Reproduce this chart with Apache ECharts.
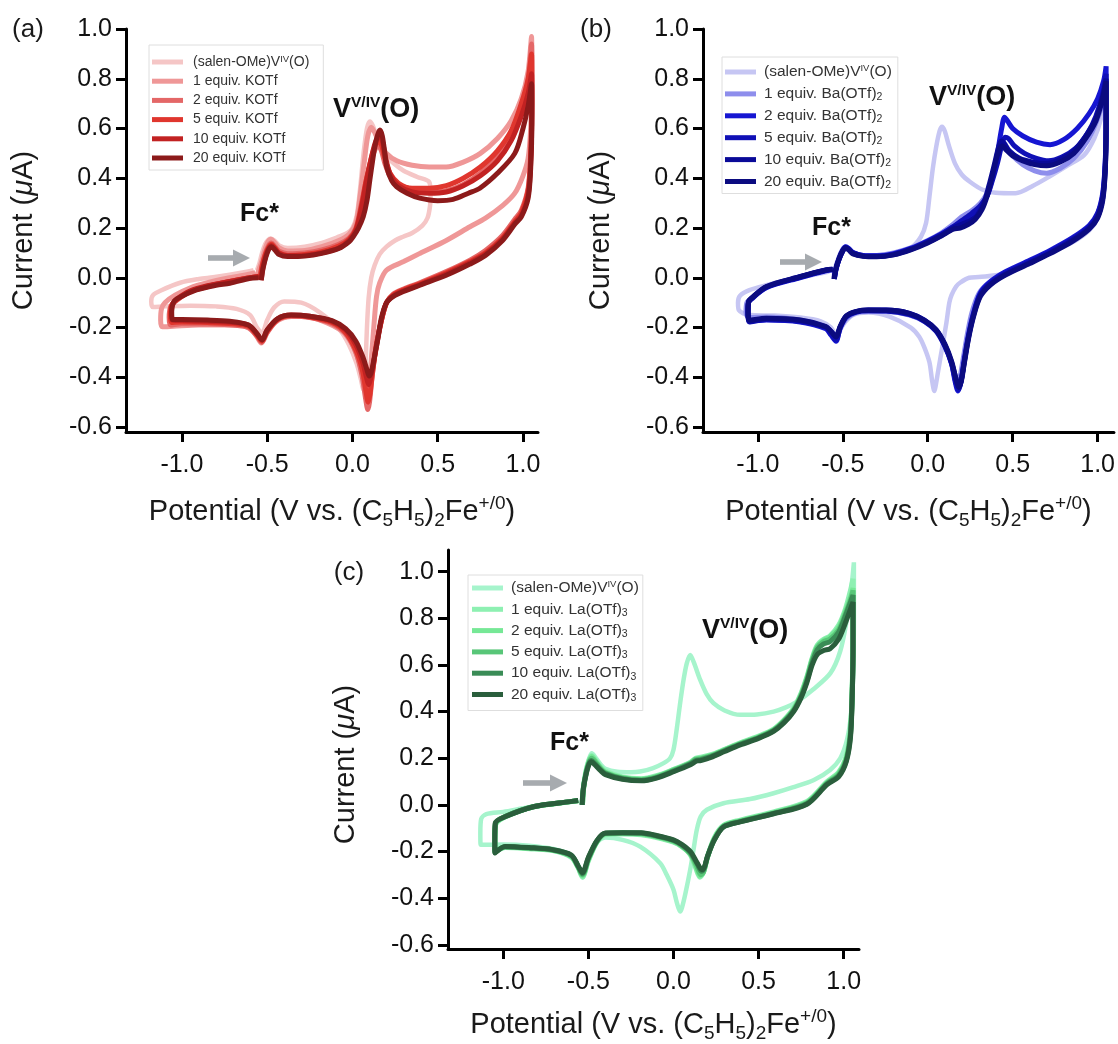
<!DOCTYPE html>
<html><head><meta charset="utf-8">
<script src="https://cdn.jsdelivr.net/npm/echarts@6/dist/echarts.min.js"></script>
<style>html,body{margin:0;padding:0;background:#fff}#c{width:1118px;height:1044px}</style>
</head><body><div id="c"></div>
<script>
// ---------------- DATA ----------------
const xTicks = [-1.0, -0.5, 0.0, 0.5, 1.0];
const yTicks = [-0.6, -0.4, -0.2, 0.0, 0.2, 0.4, 0.6, 0.8, 1.0];

const labelsA = ['(salen-OMe)V{sup|IV}(O)','1 equiv. KOTf','2 equiv. KOTf','5 equiv. KOTf','10 equiv. KOTf','20 equiv. KOTf'];
const labelsB = ['(salen-OMe)V{sup|IV}(O)','1 equiv. Ba(OTf){sub|2}','2 equiv. Ba(OTf){sub|2}','5 equiv. Ba(OTf){sub|2}','10 equiv. Ba(OTf){sub|2}','20 equiv. Ba(OTf){sub|2}'];
const labelsC = ['(salen-OMe)V{sup|IV}(O)','1 equiv. La(OTf){sub|3}','2 equiv. La(OTf){sub|3}','5 equiv. La(OTf){sub|3}','10 equiv. La(OTf){sub|3}','20 equiv. La(OTf){sub|3}'];

// Panel (a): KOTf
const a_salen = [[-0.56,0.03],[-0.545,0.06],[-0.53,0.1],[-0.512,0.135],[-0.495,0.152],[-0.48,0.158],[-0.455,0.148],[-0.43,0.13],[-0.38,0.12],[-0.28,0.125],[-0.18,0.14],[-0.08,0.165],[-0.03,0.18],[0.0,0.2],[0.025,0.25],[0.045,0.36],[0.065,0.5],[0.085,0.6],[0.102,0.628],[0.12,0.61],[0.141,0.567],[0.17,0.52],[0.2,0.487],[0.25,0.455],[0.3,0.43],[0.38,0.405],[0.45,0.385],[0.458,0.34],[0.455,0.29],[0.44,0.24],[0.41,0.21],[0.35,0.18],[0.297,0.165],[0.25,0.15],[0.2,0.125],[0.16,0.095],[0.13,0.05],[0.11,0.0],[0.095,-0.08],[0.085,-0.2],[0.078,-0.33],[0.073,-0.43],[0.065,-0.45],[0.05,-0.41],[0.024,-0.344],[-0.02,-0.27],[-0.074,-0.21],[-0.19,-0.14],[-0.3,-0.1],[-0.4,-0.095],[-0.46,-0.12],[-0.5,-0.17],[-0.53,-0.22],[-0.56,-0.2],[-0.6,-0.15],[-0.68,-0.125],[-0.8,-0.115],[-0.95,-0.112],[-1.1,-0.115],[-1.17,-0.118],[-1.18,-0.095],[-1.17,-0.07],[-1.12,-0.05],[-1.01,-0.02],[-0.9,-0.005],[-0.817,0.002],[-0.72,0.012],[-0.62,0.024],[-0.58,0.03]];
const a_1eq = [[-0.56,0.01],[-0.535,0.06],[-0.515,0.11],[-0.495,0.145],[-0.478,0.155],[-0.455,0.14],[-0.43,0.12],[-0.38,0.108],[-0.28,0.11],[-0.18,0.125],[-0.08,0.15],[-0.02,0.175],[0.02,0.22],[0.045,0.33],[0.07,0.47],[0.09,0.57],[0.11,0.605],[0.13,0.585],[0.16,0.54],[0.2,0.5],[0.26,0.47],[0.35,0.452],[0.45,0.445],[0.55,0.445],[0.65,0.465],[0.75,0.5],[0.85,0.56],[0.93,0.63],[0.99,0.72],[1.03,0.83],[1.05,0.97],[1.052,0.78],[1.045,0.6],[1.03,0.48],[1.0,0.41],[0.952,0.34],[0.88,0.29],[0.78,0.24],[0.689,0.205],[0.55,0.15],[0.395,0.098],[0.3,0.065],[0.2,0.031],[0.16,-0.02],[0.141,-0.076],[0.125,-0.2],[0.11,-0.33],[0.095,-0.44],[0.085,-0.46],[0.07,-0.42],[0.04,-0.34],[0.0,-0.27],[-0.06,-0.215],[-0.19,-0.17],[-0.3,-0.155],[-0.4,-0.16],[-0.47,-0.19],[-0.51,-0.23],[-0.535,-0.262],[-0.57,-0.225],[-0.63,-0.195],[-0.75,-0.19],[-0.9,-0.19],[-1.05,-0.195],[-1.115,-0.197],[-1.125,-0.17],[-1.12,-0.125],[-1.1,-0.1],[-1.04,-0.07],[-0.95,-0.04],[-0.85,-0.02],[-0.72,0.0],[-0.6,0.015],[-0.57,0.02]];
const a_2eq = [[-0.545,0.0],[-0.53,0.05],[-0.51,0.1],[-0.492,0.13],[-0.476,0.14],[-0.455,0.126],[-0.43,0.107],[-0.38,0.097],[-0.28,0.1],[-0.18,0.112],[-0.08,0.135],[-0.02,0.16],[0.02,0.2],[0.05,0.29],[0.08,0.39],[0.11,0.47],[0.135,0.52],[0.152,0.53],[0.17,0.51],[0.19,0.46],[0.22,0.41],[0.27,0.375],[0.35,0.355],[0.45,0.345],[0.55,0.35],[0.65,0.375],[0.75,0.42],[0.85,0.49],[0.93,0.57],[0.99,0.67],[1.03,0.79],[1.05,0.94],[1.052,0.72],[1.045,0.5],[1.03,0.36],[0.99,0.27],[0.952,0.235],[0.88,0.17],[0.78,0.11],[0.689,0.071],[0.55,0.025],[0.395,-0.02],[0.3,-0.045],[0.24,-0.065],[0.2,-0.1],[0.17,-0.17],[0.14,-0.27],[0.115,-0.4],[0.1,-0.5],[0.09,-0.53],[0.078,-0.49],[0.055,-0.39],[0.02,-0.3],[-0.04,-0.225],[-0.12,-0.185],[-0.25,-0.16],[-0.36,-0.155],[-0.44,-0.17],[-0.5,-0.22],[-0.532,-0.26],[-0.56,-0.235],[-0.61,-0.2],[-0.7,-0.19],[-0.85,-0.186],[-1.0,-0.185],[-1.068,-0.19],[-1.075,-0.16],[-1.065,-0.115],[-1.03,-0.09],[-0.95,-0.055],[-0.85,-0.035],[-0.72,-0.015],[-0.6,0.0],[-0.56,0.005]];
const a_5eq = [[-0.54,-0.005],[-0.53,0.045],[-0.51,0.095],[-0.49,0.125],[-0.475,0.135],[-0.455,0.12],[-0.43,0.1],[-0.38,0.09],[-0.28,0.094],[-0.18,0.105],[-0.08,0.128],[-0.02,0.155],[0.02,0.195],[0.05,0.28],[0.08,0.39],[0.11,0.48],[0.135,0.535],[0.155,0.55],[0.172,0.53],[0.19,0.48],[0.22,0.42],[0.27,0.38],[0.35,0.36],[0.45,0.36],[0.55,0.37],[0.65,0.4],[0.75,0.445],[0.85,0.51],[0.93,0.59],[0.99,0.7],[1.03,0.8],[1.05,0.9],[1.052,0.7],[1.045,0.48],[1.03,0.35],[0.99,0.26],[0.952,0.225],[0.88,0.16],[0.78,0.1],[0.689,0.065],[0.55,0.02],[0.395,-0.024],[0.3,-0.048],[0.24,-0.068],[0.2,-0.1],[0.17,-0.17],[0.14,-0.27],[0.118,-0.38],[0.102,-0.47],[0.092,-0.5],[0.08,-0.46],[0.058,-0.37],[0.02,-0.29],[-0.04,-0.22],[-0.12,-0.18],[-0.25,-0.158],[-0.36,-0.152],[-0.44,-0.168],[-0.5,-0.215],[-0.532,-0.255],[-0.56,-0.23],[-0.61,-0.195],[-0.7,-0.185],[-0.85,-0.18],[-1.0,-0.178],[-1.062,-0.18],[-1.068,-0.15],[-1.06,-0.11],[-1.03,-0.088],[-0.95,-0.055],[-0.85,-0.035],[-0.72,-0.015],[-0.6,0.0],[-0.55,0.005]];
const a_10eq = [[-0.535,-0.01],[-0.525,0.04],[-0.507,0.09],[-0.49,0.12],[-0.475,0.13],[-0.455,0.117],[-0.43,0.098],[-0.38,0.088],[-0.28,0.09],[-0.18,0.1],[-0.08,0.12],[-0.02,0.15],[0.02,0.19],[0.05,0.27],[0.08,0.38],[0.11,0.48],[0.135,0.545],[0.158,0.57],[0.175,0.55],[0.195,0.48],[0.225,0.41],[0.27,0.37],[0.35,0.345],[0.45,0.34],[0.55,0.345],[0.65,0.37],[0.75,0.41],[0.85,0.47],[0.93,0.55],[0.99,0.65],[1.03,0.74],[1.05,0.82],[1.052,0.66],[1.045,0.46],[1.03,0.33],[0.99,0.25],[0.952,0.22],[0.88,0.155],[0.78,0.095],[0.689,0.06],[0.55,0.015],[0.395,-0.028],[0.3,-0.052],[0.24,-0.072],[0.2,-0.1],[0.17,-0.17],[0.145,-0.26],[0.122,-0.35],[0.105,-0.41],[0.095,-0.43],[0.082,-0.4],[0.06,-0.34],[0.02,-0.27],[-0.04,-0.21],[-0.12,-0.175],[-0.25,-0.155],[-0.36,-0.15],[-0.44,-0.165],[-0.5,-0.21],[-0.53,-0.25],[-0.56,-0.225],[-0.61,-0.19],[-0.7,-0.18],[-0.85,-0.175],[-1.0,-0.172],[-1.058,-0.17],[-1.062,-0.14],[-1.055,-0.105],[-1.03,-0.085],[-0.95,-0.052],[-0.85,-0.032],[-0.72,-0.015],[-0.6,0.0],[-0.55,0.005]];
const a_20eq = [[-0.535,-0.01],[-0.525,0.035],[-0.507,0.085],[-0.49,0.115],[-0.475,0.125],[-0.455,0.112],[-0.43,0.093],[-0.38,0.085],[-0.28,0.087],[-0.18,0.098],[-0.08,0.118],[-0.02,0.145],[0.004,0.165],[0.035,0.2],[0.063,0.245],[0.085,0.31],[0.102,0.393],[0.118,0.47],[0.131,0.527],[0.148,0.575],[0.161,0.594],[0.175,0.57],[0.19,0.5],[0.2,0.447],[0.23,0.39],[0.259,0.366],[0.32,0.34],[0.395,0.32],[0.5,0.31],[0.59,0.315],[0.68,0.34],[0.747,0.36],[0.85,0.42],[0.952,0.5],[1.0,0.6],[1.03,0.69],[1.05,0.78],[1.052,0.62],[1.045,0.44],[1.03,0.32],[0.99,0.245],[0.952,0.215],[0.88,0.15],[0.78,0.09],[0.689,0.055],[0.55,0.01],[0.395,-0.03],[0.3,-0.055],[0.24,-0.075],[0.2,-0.1],[0.17,-0.16],[0.15,-0.24],[0.128,-0.32],[0.11,-0.38],[0.098,-0.395],[0.085,-0.37],[0.062,-0.32],[0.02,-0.255],[-0.04,-0.205],[-0.12,-0.172],[-0.25,-0.155],[-0.36,-0.15],[-0.44,-0.165],[-0.5,-0.21],[-0.53,-0.25],[-0.56,-0.225],[-0.61,-0.19],[-0.72,-0.175],[-0.85,-0.17],[-1.0,-0.168],[-1.055,-0.168],[-1.06,-0.135],[-1.05,-0.1],[-1.03,-0.085],[-0.915,-0.049],[-0.8,-0.03],[-0.719,-0.022],[-0.6,-0.002],[-0.55,0.0]];

// Panel (b): Ba(OTf)2
const b_salen = [[-0.555,0.0],[-0.545,0.04],[-0.525,0.08],[-0.505,0.11],[-0.49,0.122],[-0.47,0.115],[-0.44,0.1],[-0.38,0.09],[-0.28,0.092],[-0.2,0.1],[-0.1,0.12],[-0.04,0.165],[-0.01,0.22],[0.01,0.326],[0.03,0.44],[0.05,0.527],[0.07,0.59],[0.084,0.607],[0.1,0.59],[0.125,0.53],[0.16,0.46],[0.2,0.415],[0.25,0.385],[0.32,0.355],[0.4,0.342],[0.518,0.34],[0.62,0.37],[0.714,0.406],[0.82,0.45],[0.92,0.493],[0.98,0.56],[1.02,0.64],[1.045,0.74],[1.05,0.8],[1.05,0.62],[1.045,0.45],[1.03,0.32],[1.0,0.24],[0.95,0.19],[0.87,0.15],[0.75,0.11],[0.6,0.06],[0.44,0.015],[0.3,0.003],[0.244,0.0],[0.19,-0.02],[0.166,-0.036],[0.14,-0.07],[0.127,-0.1],[0.11,-0.18],[0.086,-0.277],[0.06,-0.38],[0.045,-0.44],[0.039,-0.455],[0.025,-0.41],[0.01,-0.34],[-0.02,-0.28],[-0.05,-0.237],[-0.1,-0.2],[-0.225,-0.156],[-0.35,-0.14],[-0.44,-0.15],[-0.5,-0.19],[-0.535,-0.235],[-0.57,-0.2],[-0.63,-0.175],[-0.75,-0.16],[-0.9,-0.152],[-1.05,-0.15],[-1.112,-0.13],[-1.117,-0.1],[-1.105,-0.072],[-1.05,-0.05],[-0.95,-0.03],[-0.8,-0.005],[-0.65,0.015],[-0.58,0.025]];
const b_1eq = [[-0.55,0.0],[-0.54,0.04],[-0.52,0.085],[-0.5,0.115],[-0.485,0.125],[-0.465,0.115],[-0.44,0.1],[-0.38,0.09],[-0.3,0.09],[-0.2,0.1],[-0.1,0.12],[0.0,0.15],[0.08,0.18],[0.15,0.215],[0.2,0.245],[0.26,0.27],[0.31,0.3],[0.35,0.34],[0.38,0.4],[0.41,0.48],[0.43,0.53],[0.445,0.545],[0.465,0.525],[0.5,0.49],[0.56,0.455],[0.63,0.43],[0.7,0.42],[0.78,0.44],[0.86,0.48],[0.94,0.55],[1.0,0.64],[1.035,0.72],[1.05,0.8],[1.05,0.62],[1.045,0.45],[1.03,0.32],[1.0,0.25],[0.95,0.2],[0.85,0.15],[0.7,0.095],[0.6,0.065],[0.46,0.02],[0.36,-0.02],[0.3,-0.065],[0.26,-0.14],[0.235,-0.22],[0.21,-0.32],[0.19,-0.4],[0.175,-0.43],[0.16,-0.4],[0.137,-0.335],[0.1,-0.27],[0.05,-0.21],[-0.02,-0.175],[-0.108,-0.15],[-0.245,-0.136],[-0.35,-0.136],[-0.42,-0.14],[-0.48,-0.165],[-0.52,-0.21],[-0.54,-0.235],[-0.57,-0.215],[-0.6,-0.195],[-0.75,-0.17],[-0.95,-0.158],[-1.05,-0.16],[-1.07,-0.14],[-1.065,-0.1],[-1.048,-0.089],[-0.95,-0.036],[-0.754,0.004],[-0.6,0.031],[-0.56,0.035]];
const b_2eq = [[-0.55,-0.005],[-0.54,0.035],[-0.52,0.08],[-0.5,0.11],[-0.483,0.125],[-0.465,0.118],[-0.44,0.102],[-0.38,0.09],[-0.3,0.088],[-0.2,0.097],[-0.1,0.118],[0.0,0.148],[0.08,0.176],[0.15,0.205],[0.2,0.225],[0.26,0.25],[0.31,0.28],[0.35,0.33],[0.38,0.4],[0.41,0.5],[0.435,0.6],[0.452,0.645],[0.47,0.63],[0.5,0.6],[0.56,0.57],[0.64,0.545],[0.72,0.535],[0.8,0.555],[0.88,0.6],[0.95,0.66],[1.0,0.72],[1.035,0.79],[1.05,0.85],[1.05,0.65],[1.045,0.47],[1.03,0.34],[1.0,0.26],[0.95,0.21],[0.85,0.16],[0.72,0.11],[0.6,0.07],[0.46,0.025],[0.37,-0.015],[0.31,-0.06],[0.27,-0.14],[0.24,-0.23],[0.215,-0.33],[0.195,-0.42],[0.178,-0.455],[0.162,-0.42],[0.14,-0.345],[0.1,-0.27],[0.049,-0.21],[-0.02,-0.17],[-0.108,-0.143],[-0.245,-0.13],[-0.35,-0.13],[-0.42,-0.136],[-0.48,-0.156],[-0.515,-0.2],[-0.54,-0.255],[-0.57,-0.23],[-0.6,-0.205],[-0.75,-0.178],[-0.95,-0.17],[-1.05,-0.175],[-1.058,-0.14],[-1.055,-0.1],[-1.04,-0.085],[-0.95,-0.04],[-0.754,0.0],[-0.6,0.028],[-0.56,0.032]];
const b_5eq = [[-0.55,-0.005],[-0.54,0.035],[-0.52,0.078],[-0.5,0.108],[-0.483,0.122],[-0.465,0.115],[-0.44,0.1],[-0.38,0.088],[-0.3,0.086],[-0.2,0.095],[-0.1,0.116],[0.0,0.146],[0.08,0.174],[0.15,0.205],[0.2,0.23],[0.26,0.26],[0.31,0.29],[0.35,0.33],[0.38,0.39],[0.41,0.46],[0.435,0.53],[0.455,0.565],[0.475,0.56],[0.51,0.53],[0.57,0.5],[0.64,0.48],[0.71,0.47],[0.79,0.485],[0.87,0.52],[0.94,0.58],[0.99,0.65],[1.03,0.74],[1.05,0.82],[1.05,0.63],[1.045,0.46],[1.03,0.33],[1.0,0.255],[0.95,0.205],[0.85,0.155],[0.72,0.105],[0.6,0.065],[0.46,0.02],[0.37,-0.02],[0.31,-0.065],[0.27,-0.145],[0.24,-0.235],[0.215,-0.335],[0.195,-0.42],[0.18,-0.45],[0.165,-0.42],[0.14,-0.345],[0.1,-0.275],[0.049,-0.215],[-0.02,-0.175],[-0.108,-0.148],[-0.245,-0.134],[-0.35,-0.133],[-0.42,-0.138],[-0.48,-0.158],[-0.515,-0.2],[-0.54,-0.25],[-0.57,-0.225],[-0.6,-0.2],[-0.75,-0.176],[-0.95,-0.168],[-1.05,-0.178],[-1.058,-0.14],[-1.055,-0.1],[-1.04,-0.087],[-0.95,-0.038],[-0.754,0.002],[-0.6,0.03],[-0.56,0.033]];
const b_10eq = [[-0.55,-0.005],[-0.54,0.035],[-0.52,0.078],[-0.5,0.108],[-0.483,0.122],[-0.465,0.114],[-0.44,0.098],[-0.38,0.087],[-0.3,0.085],[-0.2,0.093],[-0.1,0.114],[0.0,0.143],[0.08,0.17],[0.15,0.2],[0.2,0.215],[0.25,0.23],[0.29,0.25],[0.33,0.3],[0.36,0.37],[0.39,0.45],[0.415,0.52],[0.432,0.55],[0.45,0.54],[0.48,0.51],[0.54,0.48],[0.62,0.465],[0.7,0.46],[0.78,0.475],[0.86,0.51],[0.93,0.57],[0.99,0.64],[1.03,0.73],[1.05,0.8],[1.05,0.61],[1.045,0.44],[1.03,0.32],[1.0,0.245],[0.95,0.2],[0.85,0.15],[0.72,0.1],[0.6,0.06],[0.46,0.015],[0.37,-0.025],[0.31,-0.07],[0.27,-0.15],[0.24,-0.24],[0.215,-0.34],[0.198,-0.41],[0.184,-0.44],[0.168,-0.41],[0.14,-0.34],[0.1,-0.27],[0.049,-0.212],[-0.02,-0.172],[-0.108,-0.145],[-0.245,-0.132],[-0.35,-0.131],[-0.42,-0.136],[-0.48,-0.155],[-0.515,-0.195],[-0.54,-0.235],[-0.57,-0.215],[-0.6,-0.197],[-0.75,-0.172],[-0.95,-0.165],[-1.05,-0.175],[-1.058,-0.135],[-1.055,-0.098],[-1.04,-0.085],[-0.95,-0.037],[-0.754,0.003],[-0.6,0.03],[-0.56,0.033]];
const b_20eq = [[-0.552,-0.005],[-0.542,0.035],[-0.522,0.078],[-0.502,0.108],[-0.485,0.12],[-0.466,0.112],[-0.44,0.096],[-0.38,0.086],[-0.3,0.084],[-0.2,0.092],[-0.1,0.112],[0.0,0.14],[0.08,0.168],[0.15,0.195],[0.19,0.2],[0.24,0.215],[0.28,0.235],[0.32,0.275],[0.35,0.33],[0.38,0.41],[0.405,0.48],[0.425,0.52],[0.44,0.53],[0.46,0.515],[0.5,0.49],[0.56,0.47],[0.63,0.455],[0.7,0.45],[0.78,0.465],[0.86,0.5],[0.93,0.56],[0.99,0.63],[1.03,0.72],[1.05,0.79],[1.05,0.6],[1.045,0.43],[1.03,0.31],[1.0,0.24],[0.95,0.195],[0.85,0.145],[0.72,0.097],[0.6,0.057],[0.46,0.012],[0.37,-0.028],[0.31,-0.075],[0.27,-0.155],[0.24,-0.245],[0.215,-0.345],[0.198,-0.415],[0.183,-0.44],[0.166,-0.405],[0.14,-0.335],[0.1,-0.265],[0.049,-0.208],[-0.02,-0.17],[-0.108,-0.143],[-0.245,-0.13],[-0.35,-0.13],[-0.42,-0.135],[-0.48,-0.153],[-0.515,-0.195],[-0.54,-0.238],[-0.57,-0.215],[-0.6,-0.196],[-0.75,-0.17],[-0.95,-0.163],[-1.05,-0.17],[-1.058,-0.132],[-1.055,-0.095],[-1.04,-0.083],[-0.95,-0.035],[-0.754,0.004],[-0.6,0.031],[-0.56,0.034]];

// Panel (c): La(OTf)3
const c_salen = [[-0.54,0.0],[-0.532,0.07],[-0.515,0.15],[-0.495,0.2],[-0.48,0.221],[-0.46,0.205],[-0.43,0.175],[-0.4,0.155],[-0.33,0.142],[-0.25,0.14],[-0.196,0.143],[-0.12,0.158],[-0.058,0.179],[-0.02,0.2],[0.0,0.236],[0.02,0.33],[0.039,0.436],[0.06,0.54],[0.078,0.607],[0.098,0.643],[0.12,0.61],[0.157,0.536],[0.195,0.475],[0.235,0.436],[0.3,0.405],[0.392,0.386],[0.49,0.388],[0.588,0.4],[0.66,0.418],[0.726,0.443],[0.82,0.495],[0.922,0.565],[0.98,0.66],[1.02,0.8],[1.045,0.93],[1.06,1.04],[1.06,0.8],[1.055,0.55],[1.045,0.4],[1.02,0.28],[0.98,0.2],[0.92,0.15],[0.825,0.107],[0.7,0.075],[0.588,0.05],[0.45,0.025],[0.294,0.007],[0.196,-0.021],[0.16,-0.05],[0.137,-0.107],[0.118,-0.19],[0.098,-0.279],[0.07,-0.38],[0.05,-0.44],[0.039,-0.457],[0.02,-0.42],[0.0,-0.364],[-0.04,-0.3],[-0.078,-0.25],[-0.196,-0.179],[-0.3,-0.15],[-0.4,-0.14],[-0.46,-0.17],[-0.505,-0.24],[-0.535,-0.31],[-0.56,-0.26],[-0.6,-0.215],[-0.7,-0.19],[-0.85,-0.175],[-1.0,-0.17],[-1.1,-0.171],[-1.133,-0.171],[-1.135,-0.12],[-1.13,-0.06],[-1.1,-0.04],[-1.0,-0.03],[-0.85,-0.01],[-0.7,0.005],[-0.6,0.015],[-0.56,0.02]];
const c_1eq = [[-0.535,0.0],[-0.528,0.08],[-0.512,0.15],[-0.495,0.195],[-0.48,0.212],[-0.46,0.195],[-0.43,0.165],[-0.4,0.145],[-0.3,0.12],[-0.19,0.112],[-0.1,0.125],[0.0,0.152],[0.1,0.183],[0.13,0.2],[0.16,0.205],[0.22,0.215],[0.3,0.238],[0.392,0.266],[0.5,0.295],[0.588,0.325],[0.65,0.365],[0.706,0.415],[0.75,0.48],[0.784,0.55],[0.815,0.63],[0.845,0.685],[0.882,0.71],[0.92,0.725],[0.97,0.77],[1.01,0.84],[1.04,0.92],[1.055,0.97],[1.055,0.75],[1.05,0.5],[1.04,0.33],[1.015,0.21],[0.97,0.14],[0.902,0.1],[0.784,0.015],[0.588,-0.03],[0.392,-0.065],[0.294,-0.088],[0.24,-0.14],[0.2,-0.22],[0.175,-0.29],[0.155,-0.31],[0.13,-0.27],[0.1,-0.215],[0.05,-0.18],[0.0,-0.16],[-0.1,-0.14],[-0.19,-0.128],[-0.3,-0.125],[-0.4,-0.128],[-0.45,-0.16],[-0.5,-0.24],[-0.535,-0.31],[-0.56,-0.27],[-0.6,-0.225],[-0.71,-0.196],[-0.85,-0.188],[-0.99,-0.183],[-1.045,-0.2],[-1.05,-0.15],[-1.045,-0.085],[-0.99,-0.052],[-0.82,-0.008],[-0.61,0.013],[-0.56,0.018]];
const c_2eq = [[-0.535,0.0],[-0.528,0.075],[-0.512,0.145],[-0.495,0.19],[-0.48,0.207],[-0.46,0.19],[-0.43,0.16],[-0.4,0.14],[-0.3,0.117],[-0.19,0.11],[-0.1,0.122],[0.0,0.15],[0.1,0.181],[0.13,0.197],[0.16,0.2],[0.22,0.212],[0.3,0.236],[0.392,0.264],[0.5,0.292],[0.588,0.322],[0.65,0.362],[0.706,0.41],[0.75,0.475],[0.784,0.545],[0.815,0.625],[0.845,0.68],[0.882,0.705],[0.92,0.72],[0.97,0.76],[1.01,0.83],[1.04,0.89],[1.055,0.93],[1.055,0.72],[1.05,0.49],[1.04,0.32],[1.015,0.2],[0.97,0.135],[0.902,0.095],[0.784,0.01],[0.588,-0.033],[0.392,-0.068],[0.294,-0.09],[0.24,-0.145],[0.2,-0.225],[0.175,-0.29],[0.157,-0.305],[0.132,-0.265],[0.1,-0.212],[0.05,-0.178],[0.0,-0.158],[-0.1,-0.137],[-0.19,-0.125],[-0.3,-0.122],[-0.4,-0.125],[-0.45,-0.158],[-0.5,-0.235],[-0.535,-0.305],[-0.56,-0.268],[-0.6,-0.222],[-0.71,-0.195],[-0.85,-0.186],[-0.99,-0.181],[-1.047,-0.2],[-1.05,-0.15],[-1.045,-0.083],[-0.99,-0.051],[-0.82,-0.008],[-0.61,0.013],[-0.56,0.018]];
const c_5eq = [[-0.535,0.0],[-0.528,0.072],[-0.512,0.14],[-0.495,0.185],[-0.48,0.2],[-0.46,0.185],[-0.43,0.157],[-0.4,0.138],[-0.3,0.115],[-0.19,0.108],[-0.1,0.12],[0.0,0.148],[0.1,0.179],[0.13,0.195],[0.16,0.198],[0.22,0.21],[0.3,0.234],[0.392,0.262],[0.5,0.29],[0.588,0.32],[0.65,0.36],[0.706,0.407],[0.75,0.47],[0.784,0.54],[0.815,0.62],[0.845,0.675],[0.882,0.7],[0.92,0.712],[0.97,0.75],[1.01,0.82],[1.04,0.88],[1.055,0.92],[1.055,0.7],[1.05,0.48],[1.04,0.31],[1.015,0.195],[0.97,0.13],[0.902,0.093],[0.784,0.008],[0.588,-0.035],[0.392,-0.07],[0.294,-0.092],[0.24,-0.147],[0.2,-0.222],[0.178,-0.285],[0.16,-0.3],[0.135,-0.26],[0.1,-0.21],[0.05,-0.176],[0.0,-0.155],[-0.1,-0.135],[-0.19,-0.123],[-0.3,-0.121],[-0.4,-0.123],[-0.45,-0.157],[-0.5,-0.232],[-0.535,-0.3],[-0.56,-0.266],[-0.6,-0.22],[-0.71,-0.194],[-0.85,-0.185],[-0.99,-0.18],[-1.048,-0.203],[-1.05,-0.15],[-1.046,-0.08],[-0.99,-0.05],[-0.82,-0.007],[-0.61,0.014],[-0.56,0.019]];
const c_10eq = [[-0.537,0.0],[-0.53,0.07],[-0.514,0.135],[-0.497,0.178],[-0.482,0.19],[-0.462,0.177],[-0.43,0.152],[-0.4,0.134],[-0.3,0.112],[-0.19,0.105],[-0.1,0.117],[0.0,0.145],[0.1,0.176],[0.13,0.19],[0.16,0.194],[0.22,0.207],[0.3,0.232],[0.392,0.26],[0.5,0.288],[0.588,0.318],[0.65,0.357],[0.706,0.404],[0.75,0.465],[0.784,0.532],[0.815,0.61],[0.845,0.665],[0.882,0.69],[0.92,0.7],[0.97,0.74],[1.01,0.81],[1.04,0.87],[1.055,0.9],[1.055,0.69],[1.05,0.47],[1.04,0.3],[1.015,0.19],[0.97,0.125],[0.902,0.09],[0.784,0.005],[0.588,-0.037],[0.392,-0.072],[0.294,-0.094],[0.24,-0.15],[0.2,-0.222],[0.18,-0.272],[0.165,-0.285],[0.14,-0.255],[0.1,-0.205],[0.05,-0.172],[0.0,-0.152],[-0.1,-0.133],[-0.19,-0.121],[-0.3,-0.12],[-0.4,-0.122],[-0.45,-0.155],[-0.5,-0.228],[-0.535,-0.295],[-0.56,-0.264],[-0.6,-0.217],[-0.71,-0.193],[-0.85,-0.184],[-0.99,-0.179],[-1.049,-0.205],[-1.05,-0.15],[-1.047,-0.078],[-0.99,-0.05],[-0.82,-0.007],[-0.61,0.014],[-0.56,0.019]];
const c_20eq = [[-0.537,0.0],[-0.53,0.068],[-0.514,0.13],[-0.497,0.172],[-0.482,0.185],[-0.462,0.172],[-0.43,0.148],[-0.4,0.13],[-0.3,0.11],[-0.19,0.103],[-0.1,0.115],[0.0,0.142],[0.1,0.172],[0.137,0.188],[0.16,0.19],[0.22,0.204],[0.3,0.229],[0.392,0.257],[0.5,0.285],[0.588,0.315],[0.65,0.352],[0.706,0.4],[0.75,0.46],[0.784,0.525],[0.815,0.6],[0.845,0.645],[0.882,0.662],[0.92,0.67],[0.97,0.71],[1.01,0.78],[1.04,0.84],[1.055,0.87],[1.055,0.67],[1.05,0.46],[1.04,0.29],[1.015,0.185],[0.97,0.12],[0.902,0.087],[0.784,0.003],[0.588,-0.038],[0.392,-0.073],[0.294,-0.095],[0.24,-0.15],[0.2,-0.22],[0.182,-0.265],[0.167,-0.278],[0.14,-0.25],[0.1,-0.2],[0.05,-0.17],[0.0,-0.15],[-0.1,-0.131],[-0.19,-0.12],[-0.3,-0.119],[-0.4,-0.121],[-0.45,-0.153],[-0.5,-0.225],[-0.535,-0.29],[-0.56,-0.262],[-0.6,-0.215],[-0.71,-0.192],[-0.85,-0.183],[-0.99,-0.178],[-1.049,-0.206],[-1.05,-0.15],[-1.047,-0.078],[-0.986,-0.05],[-0.816,-0.007],[-0.608,0.014],[-0.56,0.019]];

const colorsA = ['#f5c6c6','#ef9797','#e46767','#e0362e','#c22222','#8c1a1a'];
const colorsB = ['#c6c6f3','#8e8eec','#1616d2','#1010b6','#0a0a98','#0b0b80'];
const colorsC = ['#a6f4cc','#8ef0b2','#76e896','#58c678','#3a8c56','#2a5e3c'];

const seriesA = [a_salen, a_1eq, a_2eq, a_5eq, a_10eq, a_20eq];
const seriesB = [b_salen, b_1eq, b_2eq, b_5eq, b_10eq, b_20eq];
const seriesC = [c_salen, c_1eq, c_2eq, c_5eq, c_10eq, c_20eq];

// ---------------- CHART ----------------
const FF = '"Liberation Sans", Arial, Helvetica, sans-serif';
const chart = echarts.init(document.getElementById('c'), null, {renderer: 'canvas'});

const xTitle = '{n|Potential (V vs. (C}{sub|5}{n|H}{sub|5}{n|)}{sub|2}{n|Fe}{sup|+/0}{n|)}';
const yTitle = '{n|Current (}{i|μ}{n|A)}';
const titleRich = {
  n: {fontSize: 29, lineHeight: 36, fontFamily: FF, color: '#1a1a1a'},
  i: {fontSize: 29, lineHeight: 36, fontFamily: FF, color: '#1a1a1a', fontStyle: 'italic'},
  sub: {fontSize: 19, lineHeight: 16, verticalAlign: 'bottom', fontFamily: FF, color: '#1a1a1a'},
  sup: {fontSize: 19, lineHeight: 14, verticalAlign: 'top', fontFamily: FF, color: '#1a1a1a'}
};

function xAxisFor(i, min, max, gap) {
  return {
    type: 'value', gridIndex: i, min: min, max: max,
    axisLine: {onZero: false, lineStyle: {color: '#000', width: 3}},
    axisTick: {show: true, length: 10, lineStyle: {color: '#000', width: 3}, customValues: xTicks},
    axisLabel: {customValues: xTicks, formatter: v => v.toFixed(1), fontSize: 25, color: '#111', fontFamily: FF, margin: 21},
    splitLine: {show: false},
    name: xTitle, nameLocation: 'middle', nameGap: gap,
    nameTextStyle: {fontSize: 29, fontFamily: FF, color: '#1a1a1a', rich: titleRich}
  };
}
function yAxisFor(i, min, max, pad) {
  return {
    type: 'value', gridIndex: i, min: min, max: max,
    axisLine: {onZero: false, lineStyle: {color: '#000', width: 3}},
    axisTick: {show: true, length: 10, lineStyle: {color: '#000', width: 3}, customValues: yTicks},
    axisLabel: {customValues: yTicks, formatter: v => v.toFixed(1), fontSize: 25, color: '#111', fontFamily: FF, margin: 14},
    splitLine: {show: false},
    name: yTitle, nameLocation: 'middle', nameGap: 84,
    nameTextStyle: {fontSize: 29, fontFamily: FF, color: '#1a1a1a', rich: titleRich, padding: pad}
  };
}

const series = [];
const legendText = {};
function addPanel(prefix, idx, datas, colors, labels) {
  const names = [];
  datas.forEach((d, k) => {
    const nm = prefix + k;
    names.push(nm);
    legendText[nm] = labels[k];
    series.push({
      type: 'line', name: nm, xAxisIndex: idx, yAxisIndex: idx,
      data: d, showSymbol: false, symbol: 'none', smooth: 0.3,
      lineStyle: {color: colors[k], width: k === 0 ? 4.5 : 5},
      itemStyle: {color: colors[k]},
      z: 2 + k
    });
  });
  return names;
}
const namesA = addPanel('a', 0, seriesA, colorsA, labelsA);
const namesB = addPanel('b', 1, seriesB, colorsB, labelsB);
const namesC = addPanel('c', 2, seriesC, colorsC, labelsC);

function legendFor(names, left, top, fs, lh, gap, pad, sgap) {
  return {
    data: names, orient: 'vertical', left: left, top: top,
    icon: 'rect', itemWidth: 31, itemHeight: 5, itemGap: gap,
    padding: pad, backgroundColor: '#fff', borderColor: '#dedede', borderWidth: 1,
    selectedMode: false,
    formatter: n => '{g|}' + legendText[n],
    textStyle: {
      fontSize: fs, lineHeight: lh, color: '#333', fontFamily: FF,
      rich: {
        g: {width: sgap, fontSize: fs, lineHeight: lh},
        sup: {fontSize: 9.5, lineHeight: 9, verticalAlign: 'top', color: '#333', fontFamily: FF},
        sub: {fontSize: 10.5, lineHeight: 10, verticalAlign: 'bottom', color: '#333', fontFamily: FF}
      }
    }
  };
}

function arrow(x0, x1, x2, y) {
  return {
    type: 'group', children: [
      {type: 'rect', shape: {x: x0, y: y - 2.8, width: x1 - x0 + 1, height: 5.6}, style: {fill: '#a7abaf'}},
      {type: 'polygon', shape: {points: [[x1, y - 8.5], [x2, y], [x1, y + 8.5]]}, style: {fill: '#a7abaf'}}
    ]
  };
}
function label(text, x, y, size) {
  return {type: 'text', x: x, y: y, style: {text: text, fontSize: size, fontFamily: FF, fill: '#1a1a1a', align: 'center', verticalAlign: 'middle'}};
}
function fcLabel(x, y) {
  return {type: 'text', x: x, y: y, style: {text: 'Fc*', fontSize: 25, fontWeight: 'bold', fontFamily: FF, fill: '#111', align: 'left', verticalAlign: 'middle'}};
}
function vLabel(x, y) {
  return {type: 'text', x: x, y: y, style: {
    text: '{b|V}{s|V/IV}{b|(O)}', align: 'left', verticalAlign: 'middle', fill: '#111',
    rich: {
      b: {fontSize: 27, fontWeight: 'bold', fontFamily: FF, lineHeight: 30, fill: '#111', color: '#111'},
      s: {fontSize: 15.5, fontWeight: 'bold', fontFamily: FF, lineHeight: 16, verticalAlign: 'top', fill: '#111', color: '#111'}
    }
  }};
}

const option = {
  animation: false,
  backgroundColor: '#fff',
  grid: [
    {left: 126, top: 29, width: 412, height: 403},
    {left: 703, top: 29, width: 412, height: 403},
    {left: 448, top: 550, width: 411, height: 399}
  ],
  xAxis: [xAxisFor(0, -1.328, 1.088, 62), xAxisFor(1, -1.323, 1.096, 62), xAxisFor(2, -1.325, 1.09, 58)],
  yAxis: [yAxisFor(0, -0.62, 1.0, [0, 0, 0, 0]), yAxisFor(1, -0.62, 1.0, [0, 0, 0, 0]), yAxisFor(2, -0.618, 1.093, [0, 30, 0, 0])],
  legend: [
    legendFor(namesA, 149, 45, 14, 16, 3.2, [9, 14, 4, 3], 5),
    legendFor(namesB, 722, 57, 15.5, 18, 3.9, [6, 6, 3, 3], 3),
    legendFor(namesC, 468, 575, 15.5, 18, 3.3, [4, 4, 7, 4], 3)
  ],
  series: series,
  graphic: [
    label('(a)', 28, 30, 26), label('(b)', 596, 30, 26), label('(c)', 349, 573, 26),
    fcLabel(240, 214), fcLabel(812, 228), fcLabel(550, 743),
    vLabel(333, 110), vLabel(929, 98), vLabel(702, 631),
    arrow(208, 233, 250, 258), arrow(780, 805, 822, 262), arrow(523, 550, 567, 783)
  ]
};
chart.setOption(option);
</script>
</body></html>
